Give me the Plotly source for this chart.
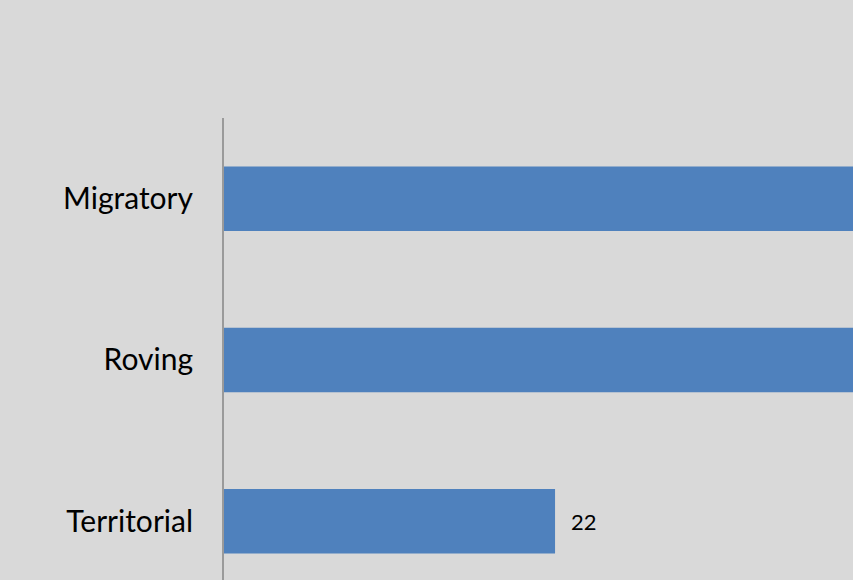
import plotly.graph_objects as go

categories = ["Territorial", "Roving", "Migratory"]
values = [22, 48, 55]
labels = [str(v) for v in values]
x_max = 41.8

fig = go.Figure(go.Bar(
    y=categories, x=values, orientation="h",
    marker=dict(color="#4f81bd", line=dict(width=0)),
    width=0.4,
    textposition="none",
))

for c, v, t in zip(categories, values, labels):
    if v < x_max:
        fig.add_annotation(x=v, y=c, text=t, showarrow=False, xanchor="left",
                           xshift=14, font=dict(family="Lato", size=22, color="#000000"))

fig.update_layout(
    width=853, height=580,
    margin=dict(l=224, r=0, t=118, b=0),
    paper_bgcolor="#d9d9d9", plot_bgcolor="#d9d9d9",
    showlegend=False,
    font=dict(family="Lato", color="#000000"),
    xaxis=dict(range=[0, x_max], showgrid=False, zeroline=False, showticklabels=False,
               showline=False, fixedrange=True),
    yaxis=dict(range=[-0.365, 2.5], showgrid=False, zeroline=False,
               showline=True, linecolor="#9a9a9a", linewidth=2,
               ticks="", tickfont=dict(family="Lato", size=30, color="#000000"),
               ticklabelstandoff=23),
)

fig.write_html("out.html", config={"displayModeBar": False},
               post_script="document.body.style.margin='0';document.body.style.overflow='hidden';")
